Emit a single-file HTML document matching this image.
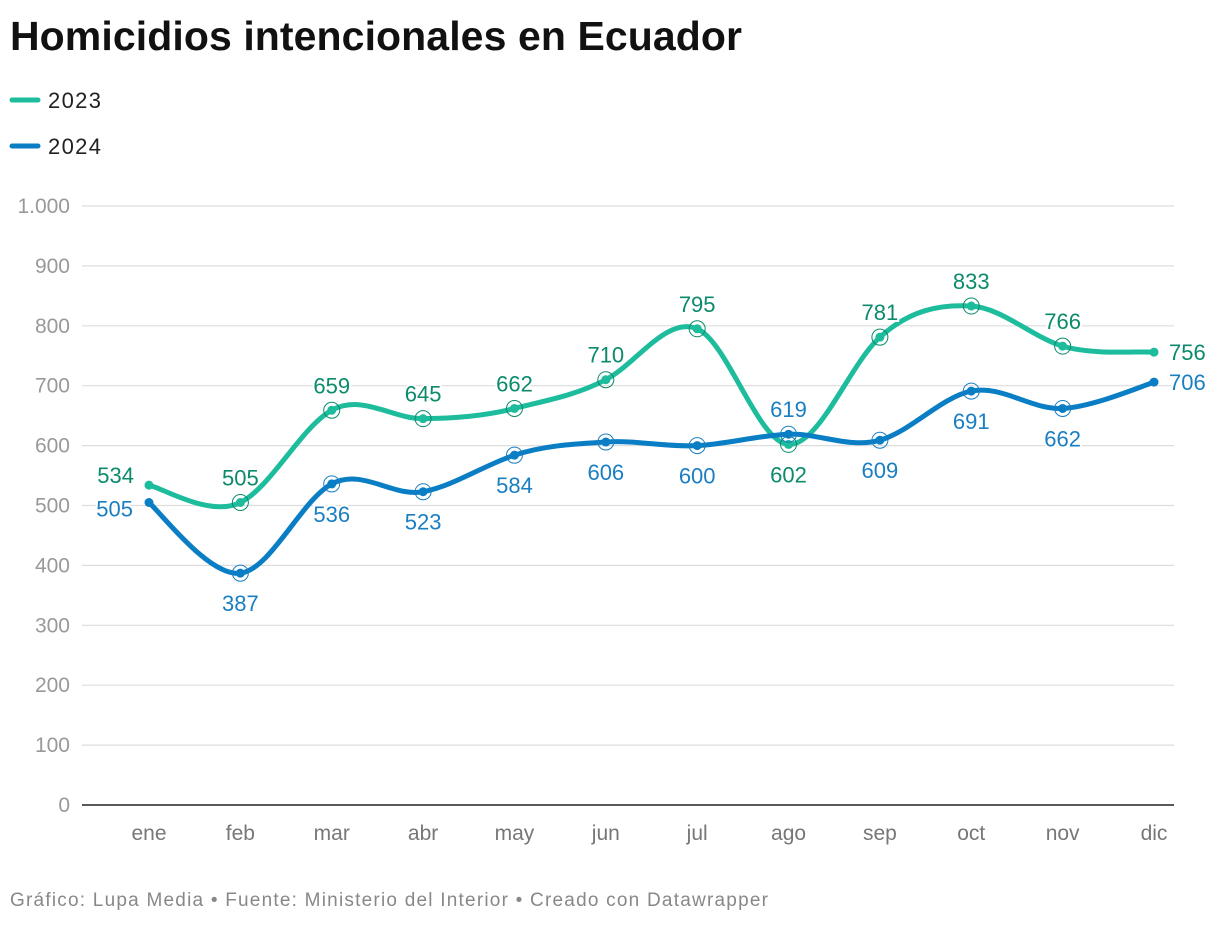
<!DOCTYPE html>
<html><head><meta charset="utf-8"><style>
body{margin:0;background:#fff;font-family:"Liberation Sans",Roboto,sans-serif;}
svg text{font-family:"Liberation Sans",sans-serif;}
</style></head><body>
<svg id="c" width="1220" height="922" xmlns="http://www.w3.org/2000/svg">
<text x="10" y="50" font-size="41" font-weight="bold" fill="#111" textLength="732">Homicidios intencionales en Ecuador</text>
<g><line x1="12" y1="100" x2="38" y2="100" stroke="#1dbc9c" stroke-width="5" stroke-linecap="round"/><text x="48" y="108" font-size="22" fill="#222" textLength="53">2023</text></g>
<g><line x1="12" y1="146" x2="38" y2="146" stroke="#0a7ec4" stroke-width="5" stroke-linecap="round"/><text x="48" y="154" font-size="22" fill="#222" textLength="53">2024</text></g>
<g id="grid"></g><g id="lines"></g><g id="labels"></g>
<text x="10" y="906" font-size="19" fill="#888" textLength="758">Gráfico: Lupa Media • Fuente: Ministerio del Interior • Creado con Datawrapper</text>
</svg>
<script>
const months=["ene","feb","mar","abr","may","jun","jul","ago","sep","oct","nov","dic"];
const s2023=[534,505,659,645,662,710,795,602,781,833,766,756];
const s2024=[505,387,536,523,584,606,600,619,609,691,662,706];
const yTicks=[0,100,200,300,400,500,600,700,800,900,1000];
const yTickLabels=["0","100","200","300","400","500","600","700","800","900","1.000"];
const pos2023=["al","a","a","a","a","a","a","b","a","a","a","r"];
const pos2024=["l","b","b","b","b","b","b","a","b","b","b","r"];
const NS="http://www.w3.org/2000/svg";
const x=i=>149+i*(1154-149)/11;
const y=v=>805-v*(805-206)/1000;
function mk(t,a,p){const e=document.createElementNS(NS,t);for(const k in a)e.setAttribute(k,a[k]);p.appendChild(e);return e;}
const G=document.getElementById('grid'),L=document.getElementById('lines'),T=document.getElementById('labels');
yTicks.forEach((v,i)=>{
 const l=mk('line',{x1:82,x2:1174,y1:y(v),y2:y(v),stroke:v===0?'#222':'#ddd','stroke-width':v===0?1.5:1.2},G);
 
 
 const t=mk('text',{x:70,y:y(v)+7,'font-size':21,fill:'#999','text-anchor':'end'},G);t.textContent=yTickLabels[i];
 
 
});
months.forEach((m,i)=>{const t=mk('text',{x:x(i),y:840,'font-size':21,fill:'#777','text-anchor':'middle'},G);t.textContent=m;
 
 });
function path(d){const P=d.map((v,i)=>[x(i),y(v)]);let s=`M${P[0][0]},${P[0][1]}`;
 for(let i=0;i<P.length-1;i++){const p0=P[i-1]||P[i],p1=P[i],p2=P[i+1],p3=P[i+2]||p2;
 const k=5;
 const c1=[p1[0]+(p2[0]-p0[0])/6,p1[1]+(p2[1]-p0[1])/k],c2=[p2[0]-(p3[0]-p1[0])/6,p2[1]-(p3[1]-p1[1])/k];
 s+=`C${c1[0]},${c1[1]} ${c2[0]},${c2[1]} ${p2[0]},${p2[1]}`;}return s;}
function series(d,col,tcol,pos,name){
 const p=mk('path',{d:path(d),fill:'none',stroke:col,'stroke-width':5,'stroke-linecap':'round'},L);
 
 
 d.forEach((v,i)=>{const cx=x(i),cy=y(v);
  const c=mk('circle',{cx,cy,r:4.5,fill:col},L);
  
  
  if(i>0&&i<d.length-1)mk('circle',{cx,cy,r:8,fill:'none',stroke:tcol,'stroke-width':1},L);
  const q=pos[i];let tx=cx,ty=cy,a='middle';
  if(q==='a')ty=cy-17;else if(q==='b')ty=cy+38;else if(q==='l'){tx=cx-16;ty=cy+14;a='end';}
  else if(q==='r'){tx=cx+15;ty=cy+8;a='start';}else if(q==='al'){tx=cx-15;ty=cy-2;a='end';}
  const t=mk('text',{x:tx,y:ty,'font-size':22,fill:tcol,'text-anchor':a,stroke:'#fff','stroke-width':4,'paint-order':'stroke'},T);
  t.textContent=v;
  
  
 });}
series(s2023,'#1dbc9c','#0b8a6c',pos2023,'series-2023');
series(s2024,'#0a7ec4','#1a7fc2',pos2024,'series-2024');
</script>
</body></html>
